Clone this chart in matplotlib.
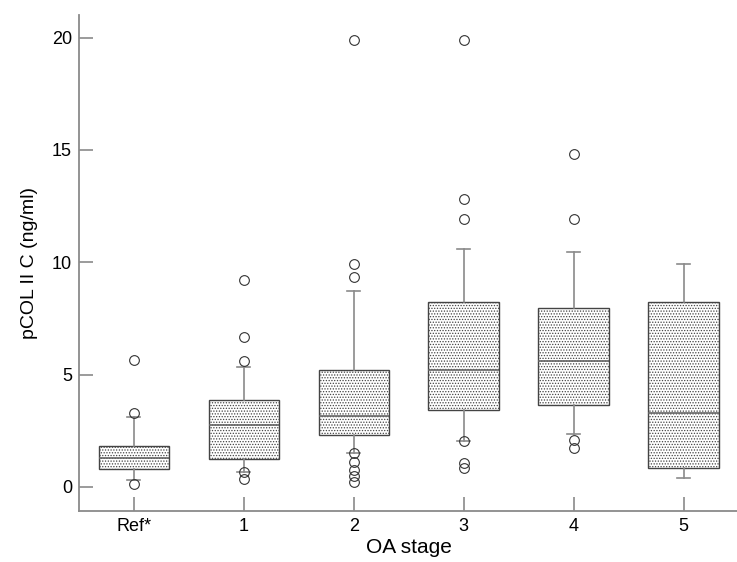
import matplotlib
matplotlib.use("Agg")
import matplotlib.pyplot as plt

# values
groups = ["Ref*", "1", "2", "3", "4", "5"]
q1 = [0.79, 1.23, 2.31, 3.42, 3.63, 0.83]
med = [1.27, 2.74, 3.16, 5.21, 5.60, 3.30]
q3 = [1.84, 3.85, 5.18, 8.22, 7.97, 8.25]
whislo = [0.30, 0.68, 1.50, 2.04, 2.36, 0.40]
whishi = [3.10, 5.32, 8.71, 10.59, 10.47, 9.94]
fliers = [
    [5.64, 3.27, 0.13],
    [9.2, 6.65, 5.61, 0.67, 0.34],
    [19.9, 9.94, 9.35, 1.50, 1.12, 0.76, 0.46, 0.21],
    [19.9, 12.8, 11.94, 2.05, 1.05, 0.83],
    [14.8, 11.91, 2.09, 1.72],
    [],
]

plt.rcParams['font.family'] = ['Liberation Sans', 'DejaVu Sans']
plt.rcParams['hatch.linewidth'] = 0.6
plt.rcParams['hatch.color'] = '#333333'

stats = []
for i, g in enumerate(groups):
    stats.append(dict(label=g, q1=q1[i], med=med[i], q3=q3[i],
                      whislo=whislo[i], whishi=whishi[i], fliers=fliers[i]))

fig = plt.figure(figsize=(7.37, 5.62), dpi=100)
ax = fig.add_axes([0.107, 0.091, 0.895, 0.882])

gray = '#8a8a8a'
bp = ax.bxp(stats, positions=range(len(groups)), widths=0.64, patch_artist=True,
            boxprops=dict(facecolor='white', edgecolor='#444444', linewidth=1.0, hatch='......'),
            medianprops=dict(color='#666666', linewidth=1.2),
            whiskerprops=dict(color=gray, linewidth=1.2),
            capprops=dict(color=gray, linewidth=1.2),
            capwidths=0.12,
            flierprops=dict(marker='o', markerfacecolor='none', markeredgecolor='#333333',
                            markersize=7, markeredgewidth=0.8))

ax.set_xlim(-0.5, 5.5)
ax.set_ylim(-1.07, 21)
ax.set_yticks([0, 5, 10, 15, 20])
ax.set_xticks(range(len(groups)))
ax.set_xticklabels(groups)

for s in ['top', 'right']:
    ax.spines[s].set_visible(False)
for s in ['left', 'bottom']:
    ax.spines[s].set_color(gray)
    ax.spines[s].set_linewidth(1.3)

ax.tick_params(direction='in', length=10, width=1.2, color=gray, labelsize=13, pad=5)
ax.set_ylabel("pCOL II C (ng/ml)", fontsize=14, labelpad=10)
ax.set_xlabel("OA stage", fontsize=15, labelpad=2)

fig.savefig("out.png", dpi=100)
